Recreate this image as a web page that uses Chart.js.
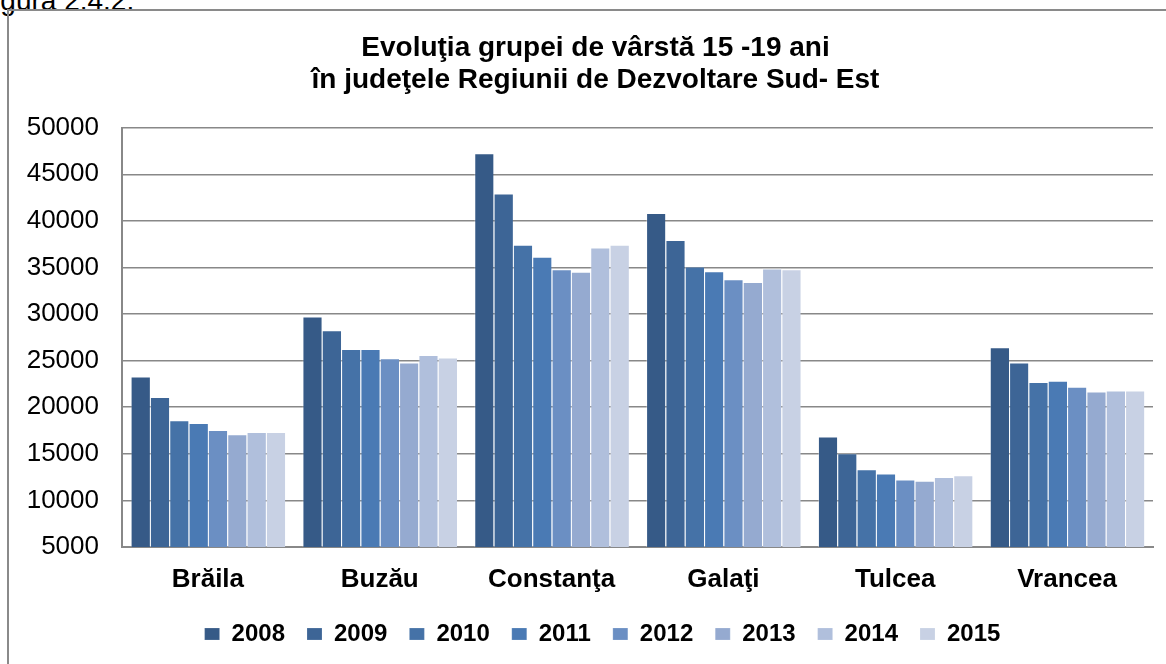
<!DOCTYPE html>
<html>
<head>
<meta charset="utf-8">
<script src="https://cdn.jsdelivr.net/npm/chart.js@4"></script>
<style>
  body { margin: 0; background: #fff; overflow: hidden; }
  #wrap { position: relative; width: 1166px; height: 664px; overflow: hidden; }
  #caption { position: absolute; left: -23px; top: -13px; font: 28px 'Liberation Sans', Arial, sans-serif; line-height: 28px; white-space: nowrap; }
  #frame { position: absolute; left: 7px; top: 9px; width: 1200px; height: 700px; border: 2px solid #8a8a8a; }
  canvas { position: absolute; left: 0; top: 0; }
</style>
</head>
<body>
<div id="wrap">
  <div id="caption">Figura 2.4.2.</div>
  <div id="frame"></div>
  <canvas id="chart" width="1166" height="664"></canvas>
</div>
<script>
const counties = ['Brăila', 'Buzău', 'Constanţa', 'Galaţi', 'Tulcea', 'Vrancea']
const years = ['2008', '2009', '2010', '2011', '2012', '2013', '2014', '2015']
const y2008 = [23300, 29750, 47250, 40850, 16850, 26450]
const y2009 = [21100, 28250, 42950, 37950, 15050, 24800]
const y2010 = [18600, 26250, 37450, 35100, 13350, 22700]
const y2011 = [18300, 26250, 36150, 34600, 12900, 22850]
const y2012 = [17550, 25250, 34800, 33750, 12250, 22200]
const y2013 = [17100, 24800, 34550, 33450, 12100, 21700]
const y2014 = [17350, 25600, 37150, 34900, 12500, 21800]
const y2015 = [17350, 25350, 37450, 34800, 12700, 21800]
const yTicks = [5000, 10000, 15000, 20000, 25000, 30000, 35000, 40000, 45000, 50000]

const series = [y2008, y2009, y2010, y2011, y2012, y2013, y2014, y2015]
const colors = ['#365a87', '#3d6596', '#4572a7', '#4a7ab4', '#6b8fc3', '#95aad0', '#b0bfdc', '#c8d1e4']
const fontFamily = "'Liberation Sans', Arial, sans-serif"

// title and legend are a bit right of the canvas centre in the original
const boxShift = {
    id: 'boxShift',
    afterLayout(chart) {
        chart.titleBlock.left += 19
        chart.titleBlock.right += 19
        chart.legend.left += 26
        chart.legend.right += 26
    }
}

const ctx = document.getElementById('chart').getContext('2d')

new Chart(ctx, {
    type: 'bar',
    data: {
        labels: counties,
        datasets: years.map(function(year, i) {
            return {
                label: year,
                data: series[i],
                backgroundColor: colors[i],
                borderColor: 'rgba(255, 255, 255, 0.35)',
                borderWidth: { left: 1, top: 1, right: 0, bottom: 0 },
                categoryPercentage: 0.9,
                barPercentage: 1
            }
        })
    },
    options: {
        responsive: false,
        animation: false,
        layout: {
            padding: { left: 0, right: 13, top: 0, bottom: 8 }
        },
        scales: {
            x: {
                afterFit(scale) {
                    scale.height = 53
                },
                grid: { display: false },
                border: { display: true, color: '#888888', width: 2 },
                ticks: {
                    color: '#000',
                    padding: 9,
                    font: { family: fontFamily, size: 26, weight: 'bold' }
                }
            },
            y: {
                min: yTicks[0],
                max: yTicks[yTicks.length - 1],
                afterBuildTicks(scale) {
                    scale.ticks = yTicks.map(function(v) { return { value: v } })
                },
                afterFit(scale) {
                    scale.width = 122
                },
                grid: { color: '#888888', lineWidth: 1.5, drawTicks: false },
                border: { display: true, color: '#888888', width: 2 },
                ticks: {
                    color: '#000',
                    padding: 23,
                    font: { family: fontFamily, size: 26 },
                    callback: function(v) { return String(v) }
                }
            }
        },
        plugins: {
            title: {
                display: true,
                text: ['Evoluţia grupei de vârstă 15 -19 ani', 'în judeţele Regiunii de Dezvoltare Sud- Est'],
                color: '#000',
                font: { family: fontFamily, size: 28, weight: 'bold', lineHeight: 1.12 },
                padding: { top: 33, bottom: 32 }
            },
            legend: {
                position: 'bottom',
                labels: {
                    color: '#000',
                    boxWidth: 15,
                    boxHeight: 12,
                    padding: 22,
                    font: { family: fontFamily, size: 24, weight: 'bold' }
                }
            },
            tooltip: { enabled: false }
        }
    },
    plugins: [boxShift]
})
</script>
</body>
</html>
